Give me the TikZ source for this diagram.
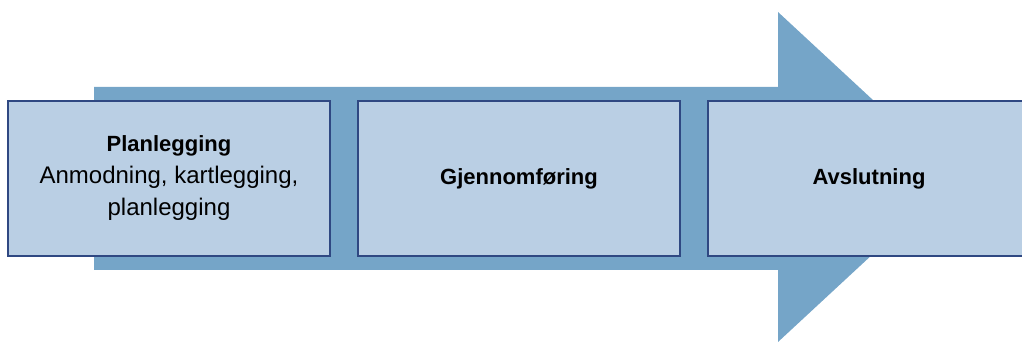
\documentclass[tikz,border=0pt]{standalone}
\usepackage{fontspec}
\setmainfont{Liberation Sans}
\usetikzlibrary{positioning}

\definecolor{arrowblue}{RGB}{117,165,200}
\definecolor{boxblue}{RGB}{186,207,228}
\definecolor{edgeblue}{RGB}{47,72,130}

\newcommand{\phasetitle}[1]{{\fontsize{16.5}{24}\selectfont\bfseries #1}}

\begin{document}
\begin{tikzpicture}[
    x=0.75pt,
    y=-0.75pt,
    node distance=262.5pt,
    on grid,
    phase/.style={draw=edgeblue, line width=1pt, fill=boxblue,
        minimum width=241.5pt, minimum height=116.25pt, align=center,
        font=\fontsize{18}{24}\selectfont}
]
    \useasboundingbox (0,0) rectangle (1022,342);
    % Big arrow
    \fill[arrowblue] (94,87) -- (778,87) -- (778,12) -- (956,177)
        -- (778,342) -- (778,270) -- (94,270) -- cycle;
    % Phases
    \node[phase] (plan) at (169,178.5) {\phasetitle{Planlegging}\\Anmodning, kartlegging,\\planlegging};
    \node[phase, right=of plan] (gjennom) {\phasetitle{Gjennomføring}};
    \node[phase, right=of gjennom] (avslutt) {\phasetitle{Avslutning}};
\end{tikzpicture}
\end{document}
